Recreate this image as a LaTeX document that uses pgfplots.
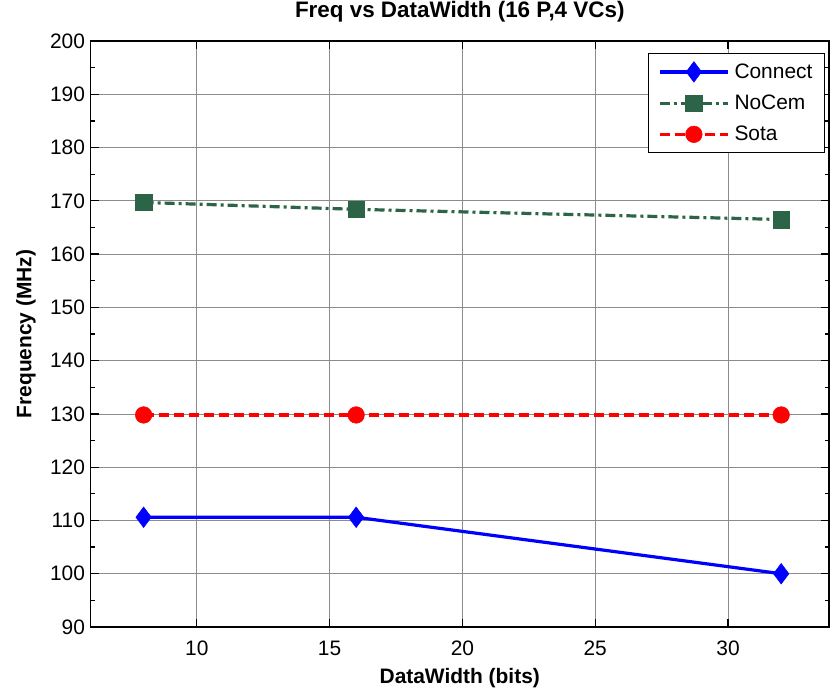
\documentclass[border=0pt]{standalone}
\usepackage{fontspec}
\setmainfont{Liberation Sans}
\usepackage{pgfplots}
\pgfplotsset{compat=1.18}
\definecolor{ncgreen}{RGB}{44,100,72}
\begin{document}
\begin{tikzpicture}
\path[use as bounding box] (0,0) rectangle (830bp,693bp);
\begin{axis}[
  at={(90.5bp,66bp)}, anchor=south west,
  scale only axis, width=738.5bp, height=586bp,
  xmin=6, xmax=33.8, ymin=90, ymax=200,
  xtick={10,15,20,25,30}, ytick={90,100,...,200},
  minor y tick num=1,
  tick align=inside, major tick length=8bp, minor tick length=4bp,
  grid=major, major grid style={black!45, line width=0.8bp},
  axis line style={line width=1.5bp},
  every tick/.style={black, line width=1.2bp},
  tick label style={font=\fontsize{21}{25}\selectfont},
  /pgf/number format/assume math mode=true,
  xticklabel style={anchor=base, yshift=-28bp},
  yticklabel style={anchor=east, xshift=-2bp},
  title={Freq vs DataWidth (16 P,4 VCs)},
  title style={at={(axis description cs:0.5,1)}, anchor=base, yshift=18bp, font=\bfseries\fontsize{22.5}{26}\selectfont},
  xlabel={DataWidth (bits)},
  xlabel style={at={(axis description cs:0.5,0)}, anchor=base, yshift=-56bp, font=\bfseries\fontsize{21}{25}\selectfont},
  ylabel={Frequency (MHz)},
  ylabel style={at={(axis description cs:-0.0799,0.5)}, anchor=base, font=\bfseries\fontsize{21}{25}\selectfont},
  legend style={at={(0.9946,0.9795)}, anchor=north east, draw=black, line width=1.2bp,
    font=\fontsize{21}{25}\selectfont, cells={anchor=west}, inner xsep=10bp, inner ysep=8bp,
    row sep=11bp, column sep=3bp},
  legend image code/.code={\draw[mark repeat=2, mark phase=2, #1, line width=3.2bp] plot coordinates {(0bp,0bp) (34bp,0bp) (68bp,0bp)};},
]
\addplot[blue, line width=3.2bp, mark=diamond*, mark size=10.3bp, mark options={solid, line width=0.5bp}]
  coordinates {(8,110.6) (16,110.6) (32,100)};
\addlegendentry{Connect}
\addplot[ncgreen, line width=3.2bp, dash pattern=on 10bp off 4bp on 3bp off 4bp, mark=square*, mark size=8.3bp, mark options={solid, line width=0.5bp}]
  coordinates {(8,169.7) (16,168.4) (32,166.5)};
\addlegendentry{NoCem}
\addplot[red, line width=3.2bp, dash pattern=on 10bp off 5bp, mark=*, mark size=8.3bp, mark options={solid, line width=0.5bp}]
  coordinates {(8,129.8) (16,129.8) (32,129.8)};
\addlegendentry{Sota}
\end{axis}
\end{tikzpicture}
\end{document}
